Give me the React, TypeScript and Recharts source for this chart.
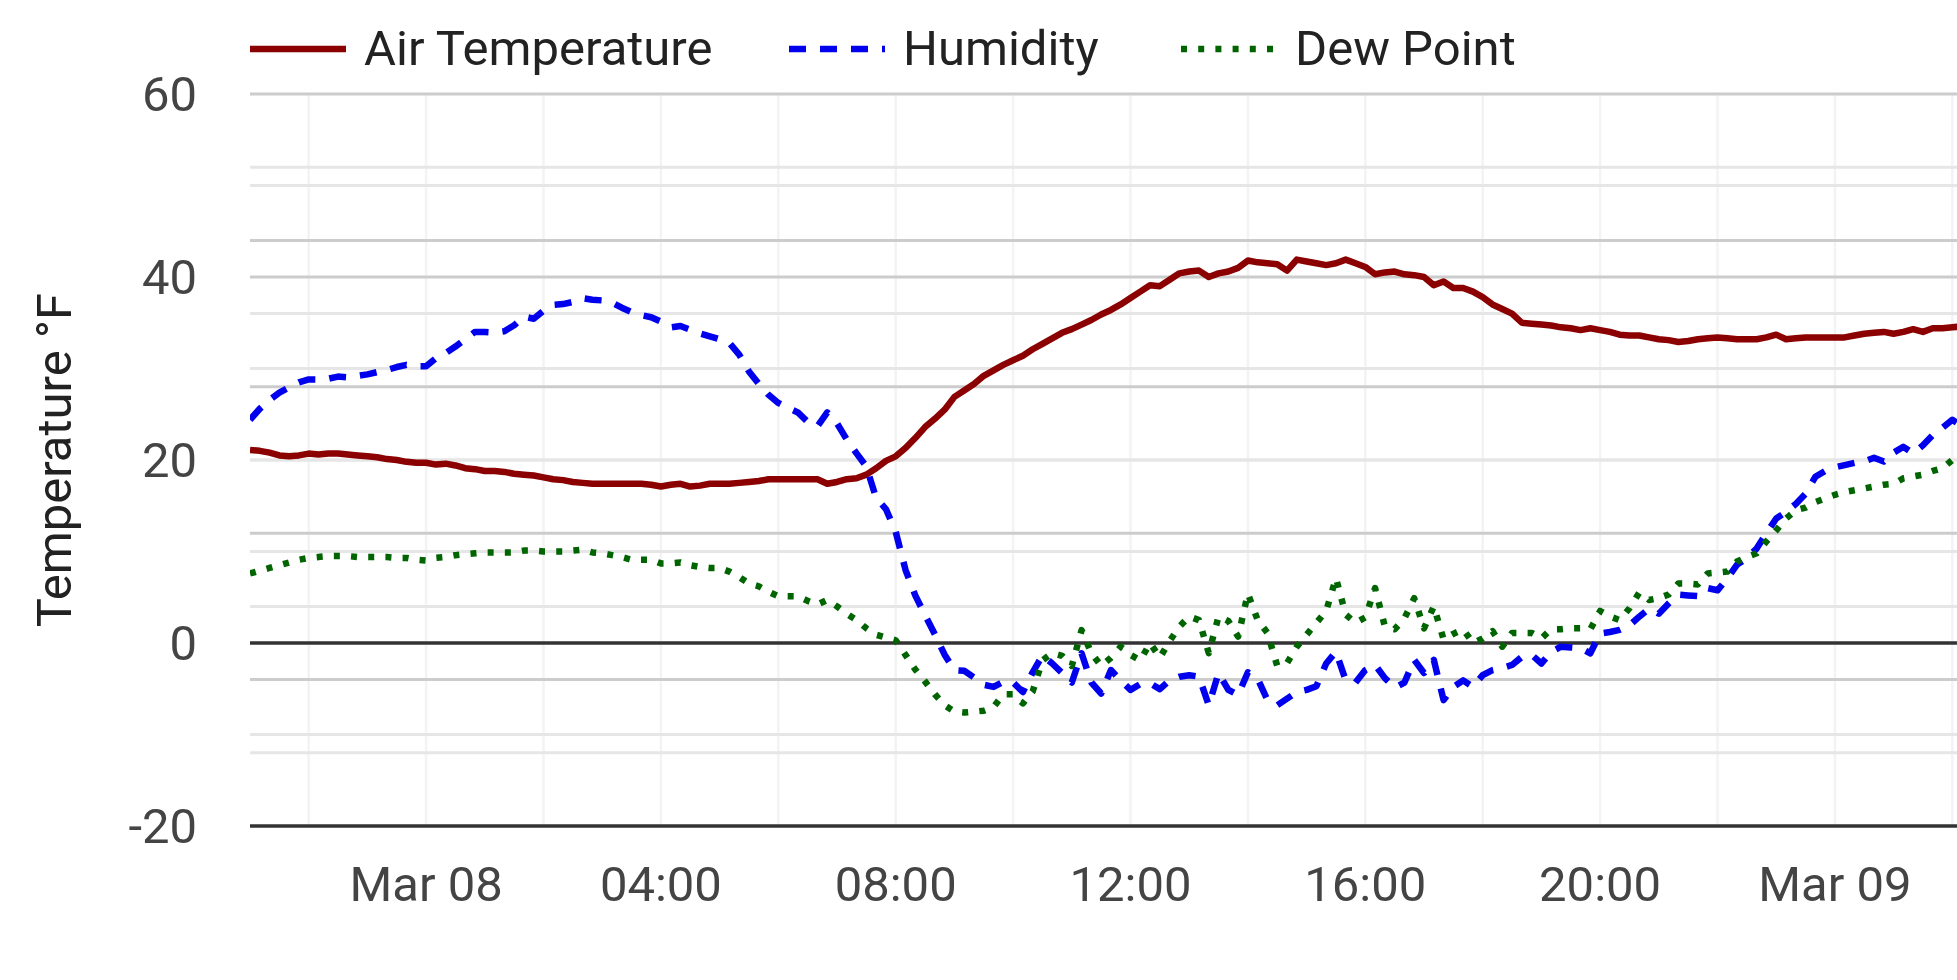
// Air temperature / humidity / dew point — Mar 07 21:00 to Mar 09 ~02:00, 10-minute readings
import { LineChart, Line, XAxis, YAxis, ReferenceLine, Legend } from 'recharts'

// ─────────────────────────────────────────────────────────────
// Data (hours relative to Mar 08 00:00, one reading every 10 min)
// ─────────────────────────────────────────────────────────────
const START_HOUR = -3
const STEP_HOURS = 1 / 6

// °F
const AIR_TEMP = [
  21.1, 21.0, 20.8, 20.5, 20.4, 20.5,
  20.7, 20.6, 20.7, 20.7, 20.6, 20.5,
  20.4, 20.3, 20.1, 20.0, 19.8, 19.7,
  19.7, 19.5, 19.6, 19.4, 19.1, 19.0,
  18.8, 18.8, 18.7, 18.5, 18.4, 18.3,
  18.1, 17.9, 17.8, 17.6, 17.5, 17.4,
  17.4, 17.4, 17.4, 17.4, 17.4, 17.3,
  17.1, 17.3, 17.4, 17.1, 17.2, 17.4,
  17.4, 17.4, 17.5, 17.6, 17.7, 17.9,
  17.9, 17.9, 17.9, 17.9, 17.9, 17.4,
  17.6, 17.9, 18.0, 18.4, 19.1, 19.9,
  20.4, 21.3, 22.4, 23.6, 24.5, 25.5,
  26.9, 27.6, 28.3, 29.2, 29.8, 30.4,
  30.9, 31.4, 32.1, 32.7, 33.3, 33.9,
  34.3, 34.8, 35.3, 35.9, 36.4, 37.0,
  37.7, 38.4, 39.1, 39.0, 39.7, 40.4,
  40.6, 40.7, 40.0, 40.4, 40.6, 41.0,
  41.8, 41.6, 41.5, 41.4, 40.7, 41.9,
  41.7, 41.5, 41.3, 41.5, 41.9, 41.5,
  41.1, 40.3, 40.5, 40.6, 40.3, 40.2,
  40.0, 39.1, 39.5, 38.8, 38.8, 38.4,
  37.8, 37.0, 36.5, 36.0, 35.0, 34.9,
  34.8, 34.7, 34.5, 34.4, 34.2, 34.4,
  34.2, 34.0, 33.7, 33.6, 33.6, 33.4,
  33.2, 33.1, 32.9, 33.0, 33.2, 33.3,
  33.4, 33.3, 33.2, 33.2, 33.2, 33.4,
  33.7, 33.2, 33.3, 33.4, 33.4, 33.4,
  33.4, 33.4, 33.6, 33.8, 33.9, 34.0,
  33.8, 34.0, 34.3, 34.0, 34.4, 34.4,
  34.5, 34.6, 34.6,
]

// % (plotted on the hidden right axis, 0–100)
const HUMIDITY = [
  55.5, 57.0, 58.2, 59.2, 59.9, 60.6,
  61.0, 61.0, 61.1, 61.4, 61.3, 61.5,
  61.7, 62.0, 62.3, 62.7, 63.0, 62.8,
  62.8, 63.9, 64.6, 65.5, 66.5, 67.5,
  67.5, 67.4, 67.6, 68.4, 69.6, 69.3,
  70.4, 71.2, 71.3, 71.6, 72.1, 71.9,
  71.8, 71.5, 70.8, 70.2, 69.8, 69.5,
  68.9, 68.1, 68.3, 67.8, 67.3, 66.9,
  66.5, 66.0, 64.4, 62.1, 60.4, 58.9,
  57.8, 57.1, 56.5, 55.2, 54.6, 56.5,
  55.0, 52.8, 50.9, 49.1, 44.8, 43.3,
  40.2, 35.0, 31.5, 28.8, 26.2, 23.4,
  21.3, 21.2, 20.3, 19.3, 19.0, 19.7,
  19.6, 18.3, 21.0, 23.3, 22.2, 20.9,
  19.6, 23.6, 19.6, 18.1, 21.3, 19.9,
  18.6, 19.4, 19.5, 18.7, 19.9, 20.4,
  20.6, 20.4, 16.5, 20.9, 18.6, 17.9,
  21.0, 20.1, 17.2, 16.5, 17.4, 18.3,
  18.6, 19.1, 22.2, 23.8, 19.9, 19.6,
  21.3, 22.0, 20.2, 18.9, 19.6, 22.7,
  20.9, 22.7, 17.2, 19.0, 19.9, 19.0,
  20.6, 21.3, 21.6, 22.0, 23.1, 23.4,
  22.2, 23.8, 24.5, 24.4, 24.3, 23.6,
  26.3, 26.5, 26.8, 27.4, 28.6, 29.7,
  29.0, 30.4, 31.6, 31.5, 31.4, 32.5,
  32.2, 33.8, 35.7, 36.6, 37.9, 40.0,
  42.0, 42.9, 44.0, 45.4, 47.7, 48.5,
  49.0, 49.3, 49.6, 49.8, 50.3, 49.8,
  51.0, 51.8, 50.9, 52.0, 53.4, 54.4,
  55.5, 54.6, 55.2,
]

// °F
const DEW_POINT = [
  7.6, 7.9, 8.2, 8.5, 8.8, 9.1,
  9.3, 9.4, 9.5, 9.5, 9.5, 9.4,
  9.4, 9.4, 9.4, 9.3, 9.3, 9.1,
  9.0, 9.3, 9.4, 9.6, 9.7, 9.8,
  9.9, 9.9, 9.9, 9.9, 10.1, 10.1,
  10.0, 10.0, 10.0, 10.1, 10.2, 9.9,
  9.8, 9.6, 9.4, 9.1, 9.1, 9.1,
  8.7, 8.7, 8.8, 8.5, 8.3, 8.2,
  8.2, 7.8, 7.2, 6.5, 6.2, 5.6,
  5.1, 5.1, 5.1, 4.6, 4.2, 4.7,
  4.0, 3.2, 2.5, 1.6, 0.9, 0.6,
  0.3, -1.3, -2.9, -4.2, -5.6, -6.8,
  -7.5, -7.6, -7.5, -7.4, -7.0, -5.6,
  -5.6, -6.6, -5.3, -1.9, -1.1, -1.4,
  -2.5, 1.4, -1.1, -2.5, -1.6, -0.4,
  -1.3, -1.9, 0.0, -1.6, 0.2, 1.8,
  2.9, 2.5, -1.1, 2.9, 2.4, 0.7,
  5.4, 2.5, 1.1, -2.5, -2.2, -0.4,
  0.9, 2.2, 3.5, 7.1, 3.1, 2.2,
  2.8, 6.0, 1.8, 1.5, 2.7, 4.9,
  1.6, 4.0, 0.4, 1.0, 1.5, 0.0,
  0.5, 1.3, -0.4, 1.1, 1.1, 1.1,
  0.5, 1.5, 1.5, 1.6, 1.6, 1.5,
  3.5, 2.9, 2.5, 3.8, 5.5, 4.7,
  4.9, 5.3, 6.5, 6.5, 6.4, 7.6,
  7.7, 7.8, 8.9, 9.4, 9.8, 11.1,
  12.3, 13.6, 14.5, 14.8, 15.4, 15.8,
  16.2, 16.5, 16.7, 16.9, 17.1, 17.3,
  17.4, 18.0, 18.2, 18.4, 18.8, 19.1,
  20.0, 20.3, 20.6,
]

const X_TICKS = [0, 4, 8, 12, 16, 20, 24]
const X_GRID = [-2, 0, 2, 4, 6, 8, 10, 12, 14, 16, 18, 20, 22, 24, 26]
const TEMP_TICKS = [-20, 0, 20, 40, 60]
const TEMP_GRID_STRONG = [40, 60]
const TEMP_GRID_LIGHT = [-10, 10, 20, 30, 50]
const HUM_GRID_STRONG = [20, 40, 60, 80]
const HUM_GRID_LIGHT = [10, 30, 50, 70, 90]

const data = AIR_TEMP.map((t, i) => ({
  h: START_HOUR + i * STEP_HOURS,
  air: t,
  hum: HUMIDITY[i],
  dew: DEW_POINT[i],
}))

// ─────────────────────────────────────────────────────────────
// Styles
// ─────────────────────────────────────────────────────────────
const FONT = 'Roboto, "Noto Sans", sans-serif'
const FONT_SIZE = 49

const SERIES = [
  { key: 'air', name: 'Air Temperature', color: '#8b0000', width: 6.5, dash: undefined as string | undefined, axis: 'temp', legendX: 0 },
  { key: 'hum', name: 'Humidity', color: '#0000ee', width: 6.5, dash: '17 14', axis: 'hum', legendX: 539 },
  { key: 'dew', name: 'Dew Point', color: '#006400', width: 6.5, dash: '6 11.2', axis: 'temp', legendX: 931 },
]

function formatHour(h: number) {
  if (h === 0) return 'Mar 08'
  if (h === 24) return 'Mar 09'
  return `${String(h).padStart(2, '0')}:00`
}

function TopLegend() {
  return (
    <div style={{ position: 'relative', width: 1300, height: FONT_SIZE, fontFamily: FONT, fontSize: FONT_SIZE, lineHeight: `${FONT_SIZE}px`, color: '#222', whiteSpace: 'nowrap' }}>
      {SERIES.map(s => (
        <div key={s.key} style={{ position: 'absolute', left: s.legendX, top: 0, display: 'flex', alignItems: 'center' }}>
          <svg width={96} height={14} style={{ marginRight: 18 }}>
            <line x1={0} x2={96} y1={7} y2={7} stroke={s.color} strokeWidth={s.width} strokeDasharray={s.dash} />
          </svg>
          <span>{s.name}</span>
        </div>
      ))}
    </div>
  )
}

export default function App() {
  const tickStyle = { fill: '#444', fontSize: FONT_SIZE, fontFamily: FONT }
  return (
    <div style={{ position: 'absolute', left: 0, top: 0, background: '#fff', fontFamily: FONT }}>
      <LineChart width={1957} height={980} data={data} margin={{ top: 94, right: 0, bottom: 0, left: 0 }}>
        {/* grid: vertical every 2 h */}
        {X_GRID.map(x => (
          <ReferenceLine key={`vx${x}`} x={x} yAxisId="temp" stroke="#f3f3f3" strokeWidth={2.5} />
        ))}
        {TEMP_GRID_LIGHT.map(y => (
          <ReferenceLine key={`tl${y}`} y={y} yAxisId="temp" stroke="#e6e6e6" strokeWidth={3} />
        ))}
        {HUM_GRID_LIGHT.map(y => (
          <ReferenceLine key={`hl${y}`} y={y} yAxisId="hum" stroke="#e6e6e6" strokeWidth={3} />
        ))}
        {TEMP_GRID_STRONG.map(y => (
          <ReferenceLine key={`ts${y}`} y={y} yAxisId="temp" stroke="#cccccc" strokeWidth={3} />
        ))}
        {HUM_GRID_STRONG.map(y => (
          <ReferenceLine key={`hs${y}`} y={y} yAxisId="hum" stroke="#cccccc" strokeWidth={3} />
        ))}
        <ReferenceLine y={0} yAxisId="temp" stroke="#333" strokeWidth={3.5} />
        <ReferenceLine y={0} yAxisId="hum" stroke="#333" strokeWidth={3.5} />

        <XAxis
          dataKey="h"
          type="number"
          domain={[-3, 26.08]}
          allowDataOverflow
          ticks={X_TICKS}
          interval={0}
          tickFormatter={formatHour}
          axisLine={false}
          tickLine={false}
          tickSize={0}
          tickMargin={40}
          height={154}
          tick={tickStyle}
        />
        <YAxis
          yAxisId="temp"
          domain={[-20, 60]}
          ticks={TEMP_TICKS}
          interval={0}
          allowDataOverflow
          axisLine={false}
          tickLine={false}
          tickSize={0}
          tickMargin={53}
          width={250}
          tick={tickStyle}
          label={{
            value: 'Temperature °F',
            angle: -90,
            position: 'insideLeft',
            offset: 54,
            style: { textAnchor: 'middle', fill: '#222', fontSize: FONT_SIZE, fontFamily: FONT },
          }}
        />
        <YAxis yAxisId="hum" orientation="right" domain={[0, 100]} allowDataOverflow hide />

        <Legend
          layout="horizontal"
          verticalAlign="middle"
          align="center"
          wrapperStyle={{ top: 24, left: 250, width: 1300 }}
          content={() => <TopLegend />}
        />

        {SERIES.map(s => (
          <Line
            key={s.key}
            yAxisId={s.axis}
            type="linear"
            dataKey={s.key}
            name={s.name}
            stroke={s.color}
            strokeWidth={s.width}
            strokeDasharray={s.dash}
            strokeLinejoin="round"
            dot={false}
            activeDot={false}
            isAnimationActive={false}
          />
        ))}
      </LineChart>
    </div>
  )
}
